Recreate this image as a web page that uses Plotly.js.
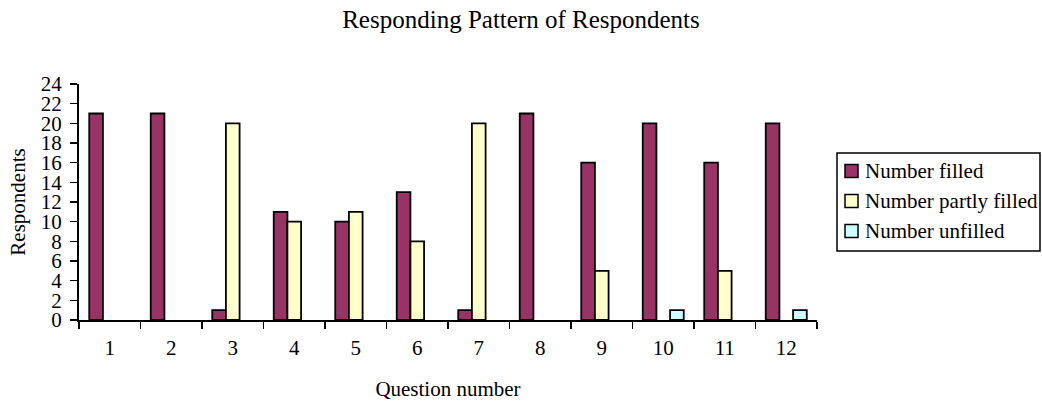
<!DOCTYPE html>
<html>
<head>
<meta charset="utf-8">
<script src="https://cdn.plot.ly/plotly-3.0.1.min.js"></script>
<style>html,body{margin:0;padding:0;background:#fff;}#chart{width:1042px;height:401px;}</style>
</head>
<body>
<div id="chart"></div>
<script>
const questions = ["1","2","3","4","5","6","7","8","9","10","11","12"];
const numberFilled = [21,21,1,11,10,13,1,21,16,20,16,20];
const numberPartlyFilled = [0,0,20,10,11,8,20,0,5,0,5,0];
const numberUnfilled = [0,0,0,0,0,0,0,0,0,1,0,1];
const seriesNames = ["Number filled","Number partly filled","Number unfilled"];
const seriesColors = ["#993366","#FFFFCC","#CCFFFF"];

const font = {family: "Liberation Serif, Times New Roman, serif", color: "#000"};
const values = [numberFilled, numberPartlyFilled, numberUnfilled];
const traces = values.map((v, i) => ({
  type: "bar",
  x: questions,
  y: v,
  name: seriesNames[i],
  marker: {color: seriesColors[i], line: {color: "#000", width: v.map(d => d === 0 ? 0 : 1.8)}},
  hoverinfo: "x+y+name"
}));

// plot area in pixels (for placing the hand-drawn legend)
const W = 1042, H = 401, L = 79, R = 225, T = 84, B = 81;
const pw = W - L - R, ph = H - T - B;
const px = p => (p - L) / pw;
const py = p => (H - B - p) / ph;

const shapes = [{
  type: "rect", xref: "paper", yref: "paper",
  x0: px(837), x1: px(1040), y0: py(251), y1: py(153),
  line: {color: "#000", width: 1.5}, fillcolor: "rgba(0,0,0,0)"
}];
const annotations = [];
seriesNames.forEach((n, i) => {
  const cy = 171 + 30 * i;
  shapes.push({
    type: "rect", xref: "paper", yref: "paper",
    x0: px(845), x1: px(858), y0: py(cy + 6.5), y1: py(cy - 6.5),
    line: {color: "#000", width: 1.5}, fillcolor: seriesColors[i]
  });
  annotations.push({
    xref: "paper", yref: "paper", x: px(863), y: py(cy),
    xanchor: "left", yanchor: "middle", showarrow: false,
    text: n, font: Object.assign({size: 21}, font)
  });
});

const layout = {
  width: W, height: H,
  margin: {l: L, r: R, t: T, b: B},
  paper_bgcolor: "#fff", plot_bgcolor: "#fff",
  font: Object.assign({size: 21}, font),
  title: {text: "Responding Pattern of Respondents", font: Object.assign({size: 25}, font),
          x: 0.5, xref: "container", xanchor: "center", y: 0.953, yref: "container", yanchor: "middle"},
  barmode: "group", bargap: 0.333, bargroupgap: 0,
  showlegend: false,
  shapes: shapes,
  annotations: annotations,
  xaxis: {
    type: "category", range: [-0.5, 11.5],
    showline: true, linecolor: "#000", linewidth: 2,
    ticks: "outside", tickson: "boundaries", ticklen: 7, tickwidth: 1.5, tickcolor: "#000",
    ticklabelstandoff: 8,
    showgrid: false, zeroline: false,
    tickfont: Object.assign({size: 21}, font),
    title: {text: "Question number", font: Object.assign({size: 21}, font), standoff: 24}
  },
  yaxis: {
    range: [0, 24], dtick: 2, tick0: 0,
    showline: true, linecolor: "#000", linewidth: 2,
    ticks: "outside", ticklen: 7, tickwidth: 1.5, tickcolor: "#000",
    ticklabelstandoff: 4,
    showgrid: false, zeroline: false,
    tickfont: Object.assign({size: 21}, font),
    title: {text: "Respondents", font: Object.assign({size: 21}, font), standoff: 9}
  }
};

Plotly.newPlot("chart", traces, layout, {displayModeBar: false, staticPlot: true});
</script>
</body>
</html>
